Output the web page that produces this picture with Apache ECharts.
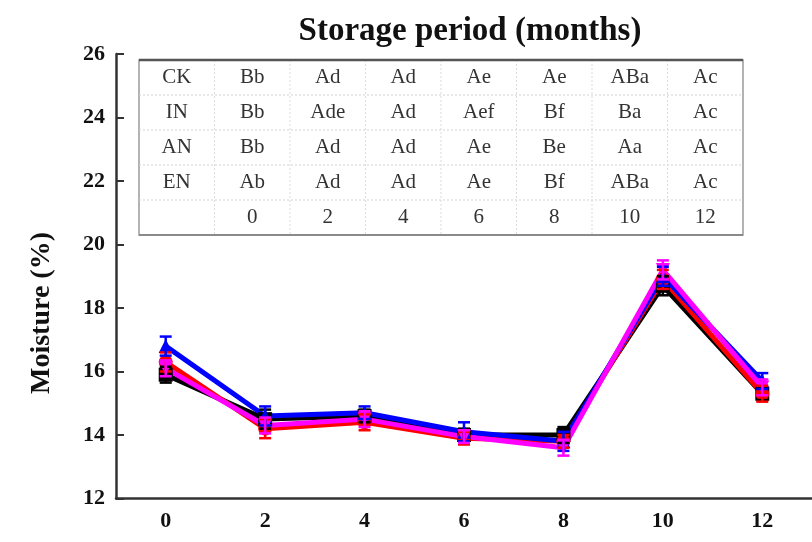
<!DOCTYPE html>
<html>
<head>
<meta charset="utf-8">
<script src="https://cdn.jsdelivr.net/npm/echarts@6/dist/echarts.min.js"></script>
<style>
  html, body { margin: 0; padding: 0; background: #fff; }
  #chart { width: 812px; height: 542px; }
</style>
</head>
<body>
<div id="chart"></div>
<script>
// Storage months (x categories)
const months = ['0', '2', '4', '6', '8', '10', '12'];

// Moisture content (%) for each treatment
const moistureCK = [15.9, 14.5, 14.6, 14.0, 14.0, 18.7, 15.3];
const moistureIN = [16.3, 14.2, 14.4, 13.9, 13.8, 18.9, 15.3];
const moistureAN = [16.8, 14.6, 14.7, 14.1, 13.8, 19.0, 15.7];
const moistureEN = [16.1, 14.3, 14.5, 13.95, 13.6, 19.2, 15.5];

// Standard deviations
const sdCK = [0.25, 0.3, 0.2, 0.2, 0.25, 0.3, 0.2];
const sdIN = [0.3, 0.3, 0.25, 0.2, 0.2, 0.3, 0.25];
const sdAN = [0.3, 0.3, 0.2, 0.3, 0.3, 0.3, 0.25];
const sdEN = [0.25, 0.25, 0.25, 0.2, 0.25, 0.3, 0.25];

// Significance letters table
const tableNames = ['CK', 'IN', 'AN', 'EN'];
const lettersCK = ['Bb', 'Ad', 'Ad', 'Ae', 'Ae', 'ABa', 'Ac'];
const lettersIN = ['Bb', 'Ade', 'Ad', 'Aef', 'Bf', 'Ba', 'Ac'];
const lettersAN = ['Bb', 'Ad', 'Ad', 'Ae', 'Be', 'Aa', 'Ac'];
const lettersEN = ['Ab', 'Ad', 'Ad', 'Ae', 'Bf', 'ABa', 'Ac'];

const yTicks = [12, 14, 16, 18, 20, 22, 24, 26];

const serif = '"Liberation Serif", "DejaVu Serif", serif';

const treatments = [
  { name: 'CK', values: moistureCK, sd: sdCK, color: '#000000', symbol: 'rect' },
  { name: 'IN', values: moistureIN, sd: sdIN, color: '#ff0000', symbol: 'circle' },
  { name: 'AN', values: moistureAN, sd: sdAN, color: '#0000ff', symbol: 'triangle' },
  { name: 'EN', values: moistureEN, sd: sdEN, color: '#ff00ff', symbol: 'path://M0,0 L10,0 L5,9 Z' }
];

const series = [];
treatments.forEach(function (t) {
  series.push({
    name: t.name,
    type: 'line',
    data: t.values,
    symbol: t.symbol,
    symbolSize: 14,
    lineStyle: { width: 5, color: t.color },
    itemStyle: { color: t.color },
    z: 3
  });
  series.push({
    name: t.name + ' sd',
    type: 'custom',
    data: t.values.map(function (v, i) { return [i, v - t.sd[i], v + t.sd[i]]; }),
    encode: { x: 0, y: [1, 2] },
    z: 4,
    renderItem: function (params, api) {
      const lo = api.coord([api.value(0), api.value(1)]);
      const hi = api.coord([api.value(0), api.value(2)]);
      const half = 6;
      const style = { stroke: t.color, lineWidth: 2.5 };
      return {
        type: 'group',
        children: [
          { type: 'line', shape: { x1: lo[0], y1: lo[1], x2: hi[0], y2: hi[1] }, style: style },
          { type: 'line', shape: { x1: lo[0] - half, y1: lo[1], x2: lo[0] + half, y2: lo[1] }, style: style },
          { type: 'line', shape: { x1: hi[0] - half, y1: hi[1], x2: hi[0] + half, y2: hi[1] }, style: style }
        ]
      };
    }
  });
});

// Letters table built as graphic elements
const tableLeft = 139, tableTop = 60, colW = 75.5, rowH = 35;
const tableRowsData = [
  [tableNames[0]].concat(lettersCK),
  [tableNames[1]].concat(lettersIN),
  [tableNames[2]].concat(lettersAN),
  [tableNames[3]].concat(lettersEN),
  [''].concat(months)
];
const nCols = 8, nRows = tableRowsData.length;
const graphics = [];
graphics.push({
  type: 'rect',
  shape: { x: tableLeft, y: tableTop, width: colW * nCols, height: rowH * nRows },
  style: { fill: '#fff', stroke: '#9a9a9a', lineWidth: 1.5 },
  z: 10
});
for (let r = 1; r < nRows; r++) {
  graphics.push({
    type: 'line',
    shape: { x1: tableLeft, y1: tableTop + r * rowH, x2: tableLeft + colW * nCols, y2: tableTop + r * rowH },
    style: { stroke: '#d4d4d4', lineWidth: 1, lineDash: [2, 2] },
    z: 11
  });
}
for (let c = 1; c < nCols; c++) {
  graphics.push({
    type: 'line',
    shape: { x1: tableLeft + c * colW, y1: tableTop, x2: tableLeft + c * colW, y2: tableTop + rowH * nRows },
    style: { stroke: '#dcdcdc', lineWidth: 1, lineDash: [2, 2] },
    z: 11
  });
}
graphics.push({
  type: 'line',
  shape: { x1: tableLeft, y1: tableTop, x2: tableLeft + colW * nCols, y2: tableTop },
  style: { stroke: '#555', lineWidth: 2.5 },
  z: 12
});
graphics.push({
  type: 'line',
  shape: { x1: tableLeft, y1: tableTop + rowH * nRows, x2: tableLeft + colW * nCols, y2: tableTop + rowH * nRows },
  style: { stroke: '#8a8a8a', lineWidth: 2 },
  z: 12
});
tableRowsData.forEach(function (row, r) {
  row.forEach(function (txt, c) {
    graphics.push({
      type: 'text',
      x: tableLeft + (c + 0.5) * colW,
      y: tableTop + (r + 0.5) * rowH,
      style: {
        text: txt,
        fill: '#333',
        font: '21px ' + serif,
        textAlign: 'center',
        textVerticalAlign: 'middle'
      },
      z: 13
    });
  });
});
// Chart title
graphics.push({
  type: 'text',
  x: 470,
  y: 31,
  style: {
    text: 'Storage period (months)',
    fill: '#111',
    font: 'bold 33px ' + serif,
    textAlign: 'center',
    textVerticalAlign: 'middle'
  },
  z: 13
});
// Y axis title
graphics.push({
  type: 'text',
  x: 42,
  y: 313,
  rotation: Math.PI / 2,
  style: {
    text: 'Moisture (%)',
    fill: '#111',
    font: 'bold 28px ' + serif,
    textAlign: 'center',
    textVerticalAlign: 'middle'
  },
  z: 13
});

const chart = echarts.init(document.getElementById('chart'), null, { renderer: 'canvas' });
chart.setOption({
  animation: false,
  backgroundColor: '#fff',
  grid: { left: 116, top: 54, width: 715, bottom: 43.5 },
  xAxis: {
    type: 'category',
    data: months,
    boundaryGap: true,
    axisLine: { lineStyle: { color: '#333', width: 2.5 } },
    axisTick: { inside: true, length: 6, lineStyle: { color: '#333', width: 1.5 } },
    axisLabel: { color: '#111', fontFamily: serif, fontWeight: 'bold', fontSize: 22, margin: 12 },
    splitLine: { show: false }
  },
  yAxis: {
    type: 'value',
    min: yTicks[0],
    max: yTicks[yTicks.length - 1],
    interval: 2,
    axisLine: { show: true, lineStyle: { color: '#333', width: 2.5 } },
    axisTick: { show: true, inside: true, length: 8, lineStyle: { color: '#333', width: 2 } },
    axisLabel: { color: '#111', fontFamily: serif, fontWeight: 'bold', fontSize: 22, margin: 11 },
    splitLine: { show: false }
  },
  series: series,
  graphic: graphics
});
</script>
</body>
</html>
